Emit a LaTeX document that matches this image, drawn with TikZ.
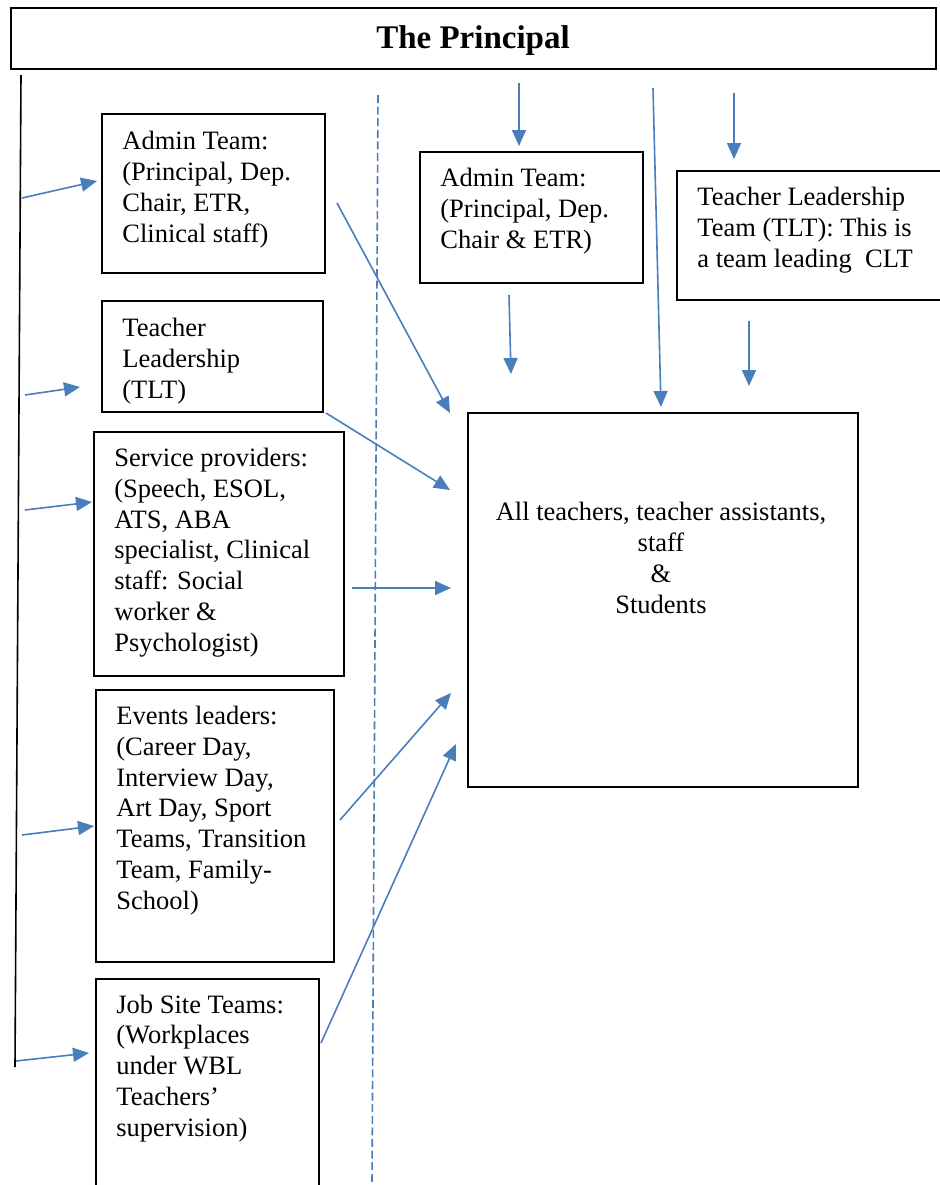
\documentclass[tikz,border=0pt]{standalone}
\usepackage{fontspec}
\setmainfont{Liberation Serif}
\usetikzlibrary{arrows.meta}
\definecolor{arrblue}{HTML}{4A7EBB}
\tikzset{
  box/.style={draw=black, line width=1pt, anchor=north west, inner sep=0pt},
  txt/.style={anchor=base west, inner sep=0pt, align=left, font=\fontsize{13.25}{15.35}\selectfont},
  ctxt/.style={anchor=base, inner sep=0pt, align=center, font=\fontsize{13.25}{15.35}\selectfont},
  arr/.style={draw=arrblue, line width=0.8pt, -{Triangle[length=8pt,width=7pt]}},
  dashline/.style={draw=arrblue, line width=0.8pt, dash pattern=on 4pt off 1.8pt},
}
\begin{document}
\begin{tikzpicture}[x=0.5pt, y=-0.5pt]
\useasboundingbox (0,0) rectangle (940,1185);
\clip (0,0) rectangle (940,1185);
% title
\node[box, minimum width=462.5pt, minimum height=30.5pt] (princ) at (10,7) {};
\node[anchor=base, inner sep=0pt, font=\fontsize{16.5}{18}\selectfont\bfseries] (princt) at (473,48) {The Principal};
% left line and dashed line
\coordinate (lt) at (21,75);
\coordinate (lb) at (15,1067);
\draw[black, line width=0.8pt] (lt) -- (lb);
\coordinate (dt) at (378,95);
\coordinate (db) at (372,1185);
\draw[dashline] (dt) -- (db);
% boxes (text anchors are the baselines of the last lines)
\node[box, minimum width=111.5pt, minimum height=79.5pt] (b1) at (101,113) {};
\node[txt] (t1) at (122,242) {Admin Team:\\(Principal, Dep.\\Chair, ETR,\\Clinical staff)};
\node[box, minimum width=110.5pt, minimum height=55.5pt] (b2) at (101,300) {};
\node[txt] (t2) at (122,398) {Teacher\\Leadership\\(TLT)};
\node[box, minimum width=125pt, minimum height=122pt] (b3) at (93,431) {};
\node[txt] (t3) at (114,651) {Service providers:\\(Speech, ESOL,\\ATS, ABA\\specialist, Clinical\\staff: Social\\worker \&\\Psychologist)};
\node[box, minimum width=119pt, minimum height=136pt] (b4) at (95,689) {};
\node[txt] (t4) at (116,909) {Events leaders:\\(Career Day,\\Interview Day,\\Art Day, Sport\\Teams, Transition\\Team, Family-\\School)};
\node[box, minimum width=111.5pt, minimum height=110pt] (b5) at (95,978) {};
\node[txt] (t5) at (116,1136) {Job Site Teams:\\(Workplaces\\under WBL\\Teachers'\\supervision)};
\node[box, minimum width=111.5pt, minimum height=65.5pt] (b6) at (419,151) {};
\node[txt] (t6) at (440,248) {Admin Team:\\(Principal, Dep.\\Chair \& ETR)};
\node[box, minimum width=134.5pt, minimum height=64.5pt] (b7) at (676,170) {};
\node[txt] (t7) at (697,267) {Teacher Leadership\\Team (TLT): This is\\a team leading~ CLT};
\node[box, minimum width=195pt, minimum height=187pt] (b8) at (467,412) {};
\node[ctxt] (t8) at (661,613) {All teachers, teacher assistants,\\staff\\\&\\Students};
% left arrows
\coordinate (l1s) at (22,198);  \coordinate (l1e) at (97,181);
\coordinate (l2s) at (25,395);  \coordinate (l2e) at (80,387);
\coordinate (l3s) at (25,510);  \coordinate (l3e) at (92,502);
\coordinate (l4s) at (22,835);  \coordinate (l4e) at (94,826);
\coordinate (l5s) at (16,1061); \coordinate (l5e) at (89,1053);
\draw[arr] (l1s) -- (l1e);
\draw[arr] (l2s) -- (l2e);
\draw[arr] (l3s) -- (l3e);
\draw[arr] (l4s) -- (l4e);
\draw[arr] (l5s) -- (l5e);
% arrows to the big box
\coordinate (m1s) at (337,203);  \coordinate (m1e) at (450,413);
\coordinate (m2s) at (326,413);  \coordinate (m2e) at (450,490);
\coordinate (m3s) at (352,588);  \coordinate (m3e) at (451,588);
\coordinate (m4s) at (340,820);  \coordinate (m4e) at (451,693);
\coordinate (m5s) at (321,1043); \coordinate (m5e) at (456,744);
\draw[arr] (m1s) -- (m1e);
\draw[arr] (m2s) -- (m2e);
\draw[arr] (m3s) -- (m3e);
\draw[arr] (m4s) -- (m4e);
\draw[arr] (m5s) -- (m5e);
% top arrows
\coordinate (p1s) at (519,83);  \coordinate (p1e) at (519,146);
\coordinate (p2s) at (509,295); \coordinate (p2e) at (511,374);
\coordinate (p3s) at (653,88);  \coordinate (p3e) at (661,407);
\coordinate (p4s) at (734,93);  \coordinate (p4e) at (734,159);
\coordinate (p5s) at (749,321); \coordinate (p5e) at (749,386);
\draw[arr] (p1s) -- (p1e);
\draw[arr] (p2s) -- (p2e);
\draw[arr] (p3s) -- (p3e);
\draw[arr] (p4s) -- (p4e);
\draw[arr] (p5s) -- (p5e);
\end{tikzpicture}
\end{document}
